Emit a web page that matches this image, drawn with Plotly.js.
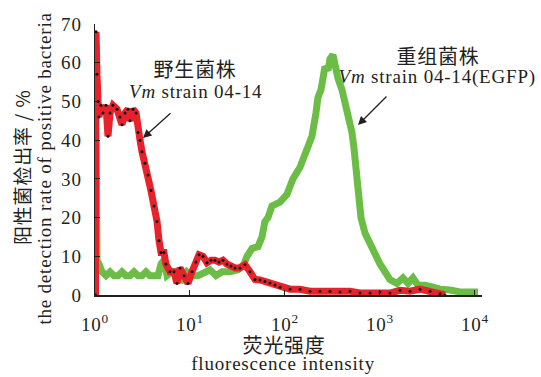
<!DOCTYPE html>
<html><head><meta charset="utf-8">
<script src="https://cdn.plot.ly/plotly-3.0.1.min.js"></script>
<style>body{margin:0;background:#fff}#c{width:541px;height:377px}</style>
</head><body><div id="c"></div>
<script>
// log10 of fluorescence intensity, and detection rate (%)
const redLogI = [0.005,0.011,0.021,0.032,0.042,0.063,0.084,0.116,0.137,0.158,0.189,0.232,0.263,0.284,0.316,0.347,0.368,0.400,0.432,0.453,0.474,0.495,0.526,0.558,0.589,0.621,0.653,0.674,0.695,0.726,0.747,0.789,0.832,0.863,0.895,0.937,0.979,1.021,1.063,1.095,1.137,1.179,1.221,1.263,1.305,1.347,1.389,1.432,1.474,1.526,1.579,1.632,1.684,1.737,1.789,1.842,1.895,1.947,2.053,2.158,2.263,2.368,2.474,2.579,2.684,2.789,2.895,3.000,3.105,3.211,3.316,3.421,3.526,3.632,3.684];
const redRate = [0,68,57,50,46,49,47,49,41,47,49,48,46,44,47,48,45,48,47,42,40,37,34,31,27,23,19,14,11,11,8,6,6,3,7,5,3,6,8.5,10.4,10,8.3,9,9,8.5,9,8,7.5,7,7,7.8,6,4,3.9,3.5,3.1,2.6,2,1.5,1.5,1,1,1,0.8,1,0.5,0.5,0.8,0.5,1.2,1,1.5,1,0.3,0];
const greenLogI = [0.005,0.011,0.021,0.042,0.074,0.116,0.158,0.200,0.242,0.284,0.326,0.368,0.411,0.453,0.495,0.537,0.579,0.632,0.663,0.695,0.726,0.758,0.811,0.863,0.916,0.968,1.021,1.084,1.158,1.211,1.274,1.337,1.421,1.505,1.568,1.600,1.653,1.716,1.758,1.789,1.821,1.863,1.947,2.021,2.084,2.158,2.221,2.284,2.326,2.347,2.379,2.400,2.421,2.453,2.474,2.505,2.537,2.558,2.600,2.632,2.653,2.684,2.705,2.726,2.747,2.768,2.800,2.842,2.895,2.947,3.000,3.053,3.105,3.179,3.242,3.295,3.347,3.400,3.474,3.558,3.632,3.737,3.842,3.979,4.032];
const greenRate = [0,40,9,8,6,5,6,5,5,6,5,5,6,5,5,6,5,5,5,8,9,5,6,5,4,6,5,5,6,6.5,5,6,6,6.5,8,10,12,12.5,15,19,20,23,24,26,30,33,37,41,47,51,53,56,59,58,61,62,58,56,53,50,48,45,42,38,32,25,20,16,13,11,8,6,4,3,4.4,3,4.4,2.5,2.5,2,1.5,1.3,0.8,0.8,0.8];
const xTickVals = [1,10,100,1000,10000];
const xTickText = ['10<sup>0</sup>','10<sup>1</sup>','10<sup>2</sup>','10<sup>3</sup>','10<sup>4</sup>'];

const toI = a => a.map(v => Math.pow(10, v));
const serif = 'Liberation Serif, Times New Roman, serif';
const cjk = 'Noto Sans CJK SC, sans-serif';
const ink = '#231f20';

const traces = [
  {x: toI(greenLogI), y: greenRate, mode: 'lines', line: {color: '#6cbd45', width: 7}, hoverinfo: 'skip'},
  {x: toI(redLogI), y: redRate, mode: 'lines+markers', line: {color: '#e8222a', width: 7},
   marker: {color: '#111', size: 3}, hoverinfo: 'skip'}
];

function px2x(p) { return (p - 95) / 387; }
function px2y(p) { return (295 - p) / 271; }
function label(xp, yp, text, font, extra) {
  return Object.assign({xref: 'paper', yref: 'paper', x: px2x(xp), y: px2y(yp), text: text,
    showarrow: false, xanchor: 'center', yanchor: 'middle', font: font}, extra || {});
}

const layout = {
  width: 541, height: 377,
  margin: {l: 95, r: 59, t: 24, b: 82},
  showlegend: false,
  paper_bgcolor: '#fff', plot_bgcolor: '#fff',
  xaxis: {type: 'log', range: [0, 4.074], tickvals: xTickVals, ticktext: xTickText,
    showline: true, linecolor: ink, linewidth: 1.5, ticks: 'inside', ticklen: 5, tickcolor: ink,
    showgrid: false, zeroline: false, ticklabelstandoff: 12,
    tickfont: {family: serif, size: 19, color: ink}},
  yaxis: {range: [0, 70], dtick: 10, showline: true, linecolor: ink, linewidth: 1.5,
    ticks: 'inside', ticklen: 5, tickcolor: ink, showgrid: false, zeroline: false,
    ticklabelstandoff: 8, tickfont: {family: serif, size: 19, color: ink}},
  annotations: [
    label(284, 344, '荧光强度', {family: cjk, size: 20, color: ink}),
    label(283, 364, 'fluorescence intensity', {family: serif, size: 19, color: ink}),
    label(21, 168, '阳性菌检出率 / %', {family: cjk, size: 19, color: ink}, {textangle: -90}),
    label(44, 168, 'the detection rate of positive bacteria', {family: serif, size: 19, color: ink}, {textangle: -90}),
    label(195, 68, '野生菌株', {family: cjk, size: 20, color: ink}),
    label(196, 91, '<i>Vm</i> strain 04-14', {family: serif, size: 19, color: ink}),
    label(438, 55, '重组菌株', {family: cjk, size: 20, color: ink}),
    label(437, 77, '<i>Vm</i> strain 04-14(EGFP)', {family: serif, size: 19, color: ink}),
    {xref: 'paper', yref: 'paper', x: px2x(143), y: px2y(138), text: '', showarrow: true,
     ax: 29, ay: -26, arrowhead: 2, arrowsize: 1.3, arrowwidth: 1.3, arrowcolor: ink},
    {xref: 'paper', yref: 'paper', x: px2x(358), y: px2y(125), text: '', showarrow: true,
     ax: 30, ay: -30, arrowhead: 2, arrowsize: 1.3, arrowwidth: 1.3, arrowcolor: ink}
  ]
};
Plotly.newPlot('c', traces, layout, {staticPlot: true}).then(gd => {
  gd.querySelectorAll('.xtick text, .ytick text, .annotation-text').forEach(t => {
    t.style.letterSpacing = '0.8px';
  });
});
</script></body></html>
